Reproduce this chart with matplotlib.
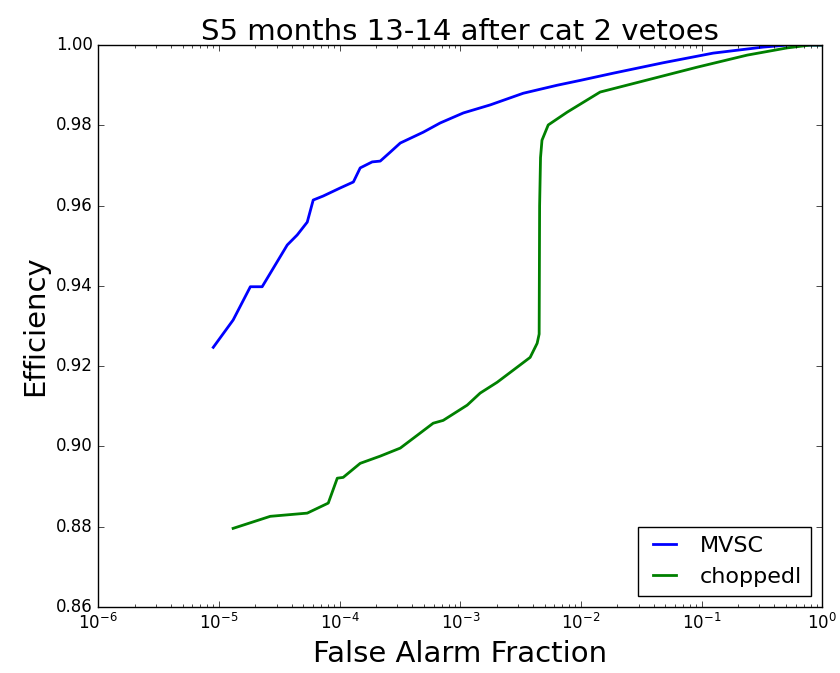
import matplotlib
matplotlib.use("Agg")
import matplotlib.pyplot as plt

# values (false alarm fraction, efficiency)
mvsc_fap = [8.97e-6, 1.31e-5, 1.82e-5, 2.28e-5, 3.68e-5, 4.45e-5, 5.39e-5, 6.04e-5,
            7.31e-5, 1.01e-4, 1.30e-4, 1.48e-4, 1.86e-4, 2.17e-4, 2.62e-4, 3.18e-4,
            4.93e-4, 6.81e-4, 1.06e-3, 1.77e-3, 3.32e-3, 6.35e-3, 9.84e-3, 1.85e-2,
            4.80e-2, 0.1245, 0.323, 0.511, 1.0]
mvsc_eff = [0.9247, 0.9315, 0.9398, 0.9398, 0.9502, 0.9527, 0.9559, 0.9614,
            0.9624, 0.9644, 0.9659, 0.9694, 0.9709, 0.9711, 0.9733, 0.9756,
            0.9783, 0.9806, 0.9831, 0.9851, 0.9880, 0.9900, 0.9912, 0.9930,
            0.9956, 0.9980, 0.9995, 1.0, 1.0]

chop_fap = [1.31e-5, 2.66e-5, 5.39e-5, 8.05e-5, 9.56e-5, 1.07e-4, 1.48e-4, 2.17e-4,
            3.18e-4, 4.40e-4, 5.96e-4, 7.21e-4, 1.14e-3, 1.46e-3, 2.02e-3, 2.74e-3,
            3.79e-3, 4.33e-3, 4.50e-3, 4.54e-3, 4.62e-3, 4.75e-3, 5.35e-3, 7.69e-3,
            1.44e-2, 3.53e-2, 9.18e-2, 0.238, 0.511, 0.792, 1.0]
chop_eff = [0.8796, 0.8826, 0.8834, 0.8859, 0.8921, 0.8923, 0.8958, 0.8976,
            0.8996, 0.9028, 0.9058, 0.9065, 0.9103, 0.9133, 0.9160, 0.9190,
            0.9222, 0.9257, 0.9280, 0.9600, 0.9720, 0.9763, 0.9801, 0.9833,
            0.9883, 0.9913, 0.9945, 0.9975, 0.9993, 1.0, 1.0]

plt.style.use('classic')
plt.rcParams['mathtext.fontset'] = 'dejavusans'
plt.rcParams['mathtext.default'] = 'regular'

fig = plt.figure(figsize=(8.4, 6.73), dpi=100, facecolor='white')
ax = fig.add_axes([0.117, 0.098, 0.862, 0.835])

ax.plot(mvsc_fap, mvsc_eff, color='b', lw=2, label='MVSC')
ax.plot(chop_fap, chop_eff, color='g', lw=2, label='choppedl')

ax.set_xscale('log')
ax.set_xlim(1e-6, 1)
ax.set_ylim(0.86, 1.0)
ax.set_yticks([0.86, 0.88, 0.90, 0.92, 0.94, 0.96, 0.98, 1.00])
ax.set_yticklabels(['%.2f' % v for v in ax.get_yticks()])
ax.tick_params(labelsize=12)

ax.set_title('S5 months 13-14 after cat 2 vetoes', fontsize=21, pad=4)
ax.set_xlabel('False Alarm Fraction', fontsize=21)
ax.set_ylabel('Efficiency', fontsize=21)
ax.legend(loc='lower right', fontsize=16, handlelength=1.6)

fig.savefig('out.png', dpi=100, facecolor='white')
